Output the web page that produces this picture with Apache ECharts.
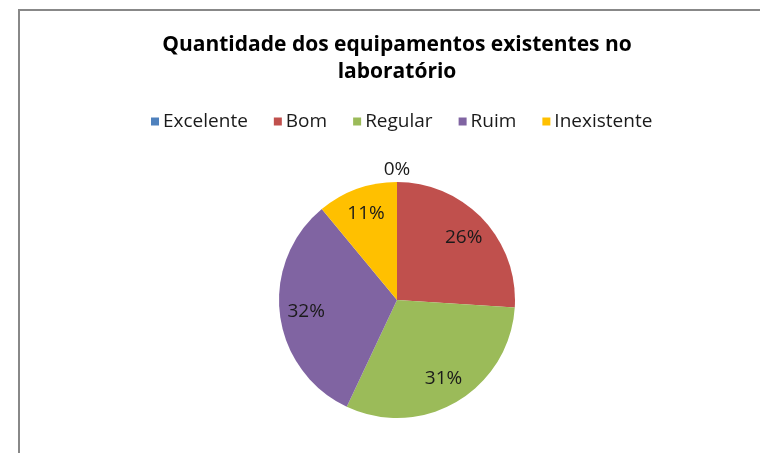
<!DOCTYPE html>
<html>
<head>
    <meta charset="utf-8">
    <title>Quantidade dos equipamentos</title>
    <script src="https://cdn.jsdelivr.net/npm/echarts@6/dist/echarts.min.js"></script>
    <style>
        html, body { margin: 0; padding: 0; background: #fff; }
        #chart { width: 760px; height: 453px; }
    </style>
</head>
<body>
<div id="chart"></div>
<script>
    // dados
    var categorias = ['Excelente', 'Bom', 'Regular', 'Ruim', 'Inexistente'];
    var valores = [0, 26, 31, 32, 11];
    var cores = ['#4f81bd', '#c0504d', '#9bbb59', '#8064a2', '#ffc000'];

    var fonte = '"Open Sans", "DejaVu Sans", sans-serif';
    var centro = [397, 300];
    var raio = 118;

    var dados = categorias.map(function (nome, i) {
        return { name: nome, value: valores[i], itemStyle: { color: cores[i] } };
    });

    var estiloRotulo = {
        formatter: '{d}%',
        fontFamily: fonte,
        fontSize: 19,
        color: '#1a1a1a'
    };

    var myChart = echarts.init(document.getElementById('chart'), null, { renderer: 'canvas' });
    var option = {
        animation: false,
        graphic: [{
            type: 'rect',
            silent: true,
            shape: { x: 19, y: 10, width: 800, height: 500 },
            style: { fill: 'none', stroke: '#888888', lineWidth: 2 }
        }],
        title: {
            text: 'Quantidade dos equipamentos existentes no\nlaboratório',
            left: 392,
            textAlign: 'center',
            top: 27,
            textStyle: {
                fontFamily: fonte,
                fontSize: 21,
                fontWeight: 'bold',
                color: '#000',
                lineHeight: 27
            }
        },
        legend: {
            data: categorias,
            left: 146,
            top: 107,
            itemWidth: 8,
            itemHeight: 8,
            itemGap: 26,
            icon: 'rect',
            textStyle: { fontFamily: fonte, fontSize: 19, color: '#1a1a1a', padding: [0, 0, 0, -1] }
        },
        series: [{
            name: 'equipamentos',
            type: 'pie',
            center: centro,
            radius: raio,
            startAngle: 90,
            clockwise: true,
            avoidLabelOverlap: false,
            silent: true,
            data: dados,
            label: { show: false },
            labelLine: { show: false }
        }, {
            // série transparente maior: rótulos mais perto da borda
            name: 'rotulos',
            type: 'pie',
            center: centro,
            radius: raio * 1.5,
            startAngle: 90,
            clockwise: true,
            silent: true,
            avoidLabelOverlap: false,
            itemStyle: { color: 'rgba(0,0,0,0)' },
            data: categorias.map(function (nome, i) {
                return { name: nome, value: valores[i], label: { show: valores[i] > 0 } };
            }),
            label: Object.assign({ position: 'inside' }, estiloRotulo),
            labelLine: { show: false }
        }, {
            // rótulo de 0% fora do círculo
            name: 'zero',
            type: 'pie',
            center: centro,
            radius: 254,
            startAngle: 90,
            clockwise: true,
            silent: true,
            avoidLabelOverlap: false,
            itemStyle: { color: 'rgba(0,0,0,0)' },
            data: categorias.map(function (nome, i) {
                return { name: nome, value: valores[i], label: { show: valores[i] === 0 } };
            }),
            label: Object.assign({ position: 'inside' }, estiloRotulo),
            labelLine: { show: false }
        }]
    };
    myChart.setOption(option);
</script>
</body>
</html>
